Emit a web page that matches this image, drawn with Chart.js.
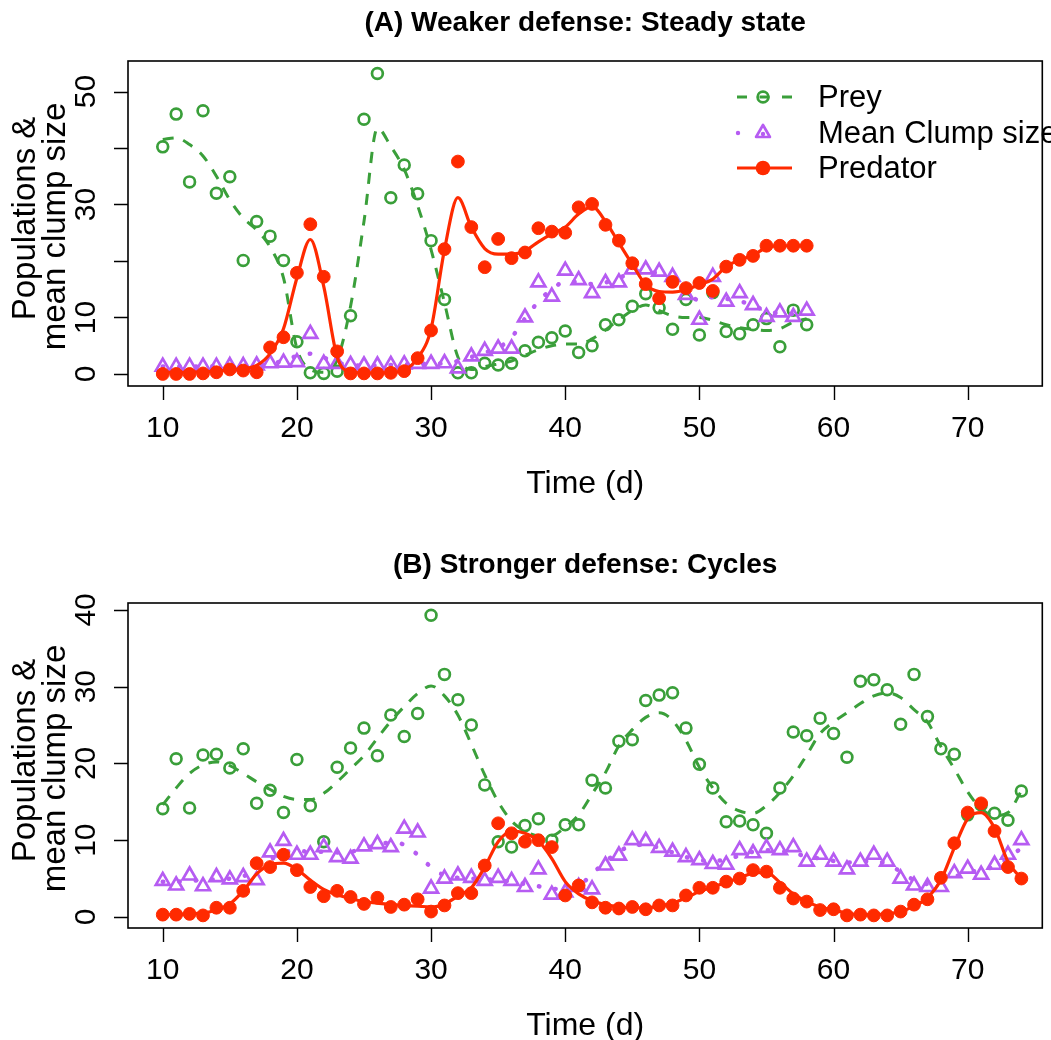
<!DOCTYPE html>
<html>
<head>
<meta charset="utf-8">
<script src="https://cdn.jsdelivr.net/npm/chart.js@4.4.1/dist/chart.umd.min.js"></script>
<style>
  html, body { margin: 0; padding: 0; background: #ffffff; overflow: hidden; }
  .panel { position: absolute; left: 0; width: 1051px; height: 520px; overflow: hidden; }
</style>
</head>
<body>
<div class="panel" style="top:0"><canvas id="panelA" width="1053" height="520"></canvas></div>
<div class="panel" style="top:520px"><canvas id="panelB" width="1053" height="520"></canvas></div>
<script>
(() => {
    'use strict';

    // ---- panel A: weaker defense ----
    const daysA = [10, 11, 12, 13, 14, 15, 16, 17, 18, 19, 20, 21, 22, 23, 24, 25, 26, 27, 28, 29,
        30, 31, 32, 33, 34, 35, 36, 37, 38, 39, 40, 41, 42, 43, 44, 45, 46, 47, 48, 49,
        50, 51, 52, 53, 54, 55, 56, 57, 58];
    const preyA = [40.2, 46.0, 34.0, 46.6, 32.0, 34.9, 20.1, 27.0, 24.4, 20.1, 5.7, 0.2, 0.1, 0.5, 10.3, 45.1, 53.2, 31.2, 37.0, 31.9,
        23.6, 13.2, 0.2, 0.2, 1.9, 1.6, 1.9, 4.1, 5.6, 6.4, 7.6, 3.8, 5.0, 8.7, 9.6, 12.0, 14.2, 11.7, 7.9, 13.2,
        6.9, 14.4, 7.5, 7.1, 8.7, 9.8, 4.8, 11.3, 8.7];
    const preyFitA = [41.5, 41.8, 40.6, 38.6, 35.0, 30.8, 27.6, 25.5, 22.5, 17.0, 4.5, 0.8, 0.3, 2.5, 12.0, 27.0, 43.5, 40.3, 36.2, 29.8,
        22.0, 12.6, 3.0, 0.8, 1.3, 1.8, 2.3, 3.3, 4.3, 5.0, 5.3, 5.3, 6.2, 7.8, 9.6, 11.2, 12.2, 11.2, 10.3, 10.0,
        10.0, 9.5, 8.7, 8.2, 7.9, 7.7, 8.0, 9.2, 9.8];
    const clumpA = [1.3, 1.3, 1.3, 1.3, 1.3, 1.4, 1.4, 1.5, 1.9, 2.0, 2.1, 7.1, 1.8, 1.8, 1.6, 1.5, 1.5, 1.6, 1.7, 1.8,
        1.8, 1.9, 1.0, 3.1, 4.1, 4.5, 4.5, 10.0, 16.2, 13.7, 18.3, 16.6, 14.3, 16.1, 16.2, 18.5, 18.5, 18.1, 17.2, 14.0,
        9.6, 17.2, 12.8, 14.3, 12.2, 10.1, 10.9, 10.1, 11.2];
    const clumpFitA = [1.3, 1.3, 1.3, 1.3, 1.4, 1.4, 1.5, 1.6, 1.9, 2.3, 3.2, 3.6, 2.9, 2.0, 1.6, 1.5, 1.5, 1.6, 1.7, 1.8,
        1.8, 1.9, 2.3, 3.0, 3.8, 4.6, 6.5, 9.8, 12.8, 15.0, 16.3, 16.3, 15.9, 16.2, 17.0, 17.9, 18.2, 17.7, 16.6, 14.7,
        13.0, 13.6, 13.3, 12.9, 12.1, 11.2, 10.7, 10.6, 10.9];
    const predatorA = [0.0, 0.0, 0.0, 0.1, 0.3, 0.8, 0.6, 0.3, 4.7, 6.5, 17.9, 26.5, 17.2, 4.0, 0.1, 0.1, 0.1, 0.2, 0.5, 2.8,
        7.7, 22.1, 37.6, 26.0, 18.9, 23.9, 20.5, 21.5, 25.8, 25.2, 25.0, 29.5, 30.1, 26.4, 23.6, 19.6, 15.9, 13.4, 16.3, 15.2,
        16.1, 14.7, 19.0, 20.2, 20.9, 22.7, 22.7, 22.7, 22.7];
    const predatorFitA = [0.3, 0.3, 0.3, 0.4, 0.5, 0.7, 0.9, 1.5, 3.6, 8.0, 17.0, 23.8, 15.5, 3.0, 0.4, 0.2, 0.2, 0.3, 0.7, 2.8,
        8.0, 22.0, 31.2, 26.0, 22.2, 21.2, 21.2, 21.8, 23.4, 24.8, 26.0, 28.3, 29.6, 27.0, 23.2, 19.4, 15.8, 14.6, 14.5, 14.9,
        15.8, 16.8, 19.0, 20.2, 21.0, 22.4, 22.7, 22.7, 22.7];

    // ---- panel B: stronger defense ----
    const daysB = [10, 11, 12, 13, 14, 15, 16, 17, 18, 19, 20, 21, 22, 23, 24, 25, 26, 27, 28, 29,
        30, 31, 32, 33, 34, 35, 36, 37, 38, 39, 40, 41, 42, 43, 44, 45, 46, 47, 48, 49,
        50, 51, 52, 53, 54, 55, 56, 57, 58, 59, 60, 61, 62, 63, 64, 65, 66, 67, 68, 69,
        70, 71, 72, 73, 74];
    const preyB = [14.1, 20.6, 14.2, 21.1, 21.2, 19.4, 21.9, 14.8, 16.5, 13.6, 20.5, 14.5, 9.8, 19.5, 22.0, 24.6, 21.0, 26.3, 23.5, 26.5,
        39.3, 31.6, 28.3, 25.0, 17.2, 9.8, 9.1, 11.9, 12.8, 10.0, 12.0, 12.0, 17.8, 16.8, 22.9, 23.1, 28.2, 28.9, 29.2, 24.6,
        19.9, 16.8, 12.4, 12.5, 12.0, 10.9, 16.8, 24.1, 23.6, 25.9, 23.9, 20.8, 30.7, 30.9, 29.6, 25.1, 31.6, 26.1, 21.9, 21.2,
        13.3, 14.6, 13.5, 12.6, 16.4];
    const preyFitB = [14.6, 16.8, 18.7, 19.8, 20.2, 19.7, 18.7, 17.6, 16.6, 15.7, 15.3, 15.3, 16.1, 17.6, 19.3, 21.0, 23.3, 25.5, 27.4, 29.1,
        30.1, 28.8, 26.3, 22.5, 18.5, 15.0, 12.5, 11.2, 10.6, 10.6, 11.7, 13.3, 16.0, 18.8, 22.3, 24.4, 26.0, 26.6, 25.6, 23.0,
        19.5, 16.8, 14.8, 13.8, 13.5, 14.5, 16.2, 18.4, 21.1, 23.9, 25.4, 26.6, 27.8, 28.8, 29.2, 28.6, 27.0, 25.4, 22.2, 19.3,
        16.3, 14.1, 13.2, 13.6, 16.4];
    const clumpB = [4.7, 4.1, 5.4, 4.0, 5.2, 4.9, 5.2, 4.8, 8.4, 9.9, 8.1, 8.1, 9.1, 7.8, 7.6, 9.2, 9.5, 9.1, 11.5, 11.0,
        3.7, 5.0, 5.4, 5.1, 4.7, 5.1, 4.7, 3.9, 6.2, 2.9, 3.2, 3.9, 3.6, 6.7, 8.0, 10.0, 9.9, 9.0, 8.5, 7.8,
        7.4, 6.9, 6.8, 8.7, 8.3, 9.0, 8.7, 9.1, 7.2, 8.1, 7.2, 6.2, 7.2, 8.1, 7.2, 5.0, 4.1, 3.9, 3.9, 5.7,
        6.3, 5.5, 6.8, 8.1, 10.0];
    const clumpFitB = [4.6, 4.6, 4.7, 4.8, 4.9, 5.0, 5.3, 6.2, 7.4, 8.4, 8.6, 8.5, 8.5, 8.4, 8.5, 8.9, 9.4, 9.7, 9.4, 8.1,
        6.5, 5.4, 5.1, 5.0, 4.9, 4.8, 4.6, 4.3, 4.0, 3.7, 3.6, 4.0, 5.6, 7.2, 8.5, 9.3, 9.4, 9.0, 8.4, 7.8,
        7.4, 7.3, 7.5, 8.0, 8.5, 8.7, 8.6, 8.3, 7.9, 7.6, 7.3, 7.1, 7.2, 7.3, 6.9, 5.9, 4.8, 4.3, 4.5, 5.2,
        5.8, 6.1, 6.6, 7.6, 9.0];
    const predatorB = [0.3, 0.3, 0.4, 0.2, 1.2, 1.2, 3.4, 7.0, 6.5, 8.1, 6.1, 3.9, 2.7, 3.4, 2.6, 1.7, 2.5, 1.3, 1.6, 2.3,
        0.7, 1.5, 3.1, 3.1, 6.7, 12.2, 10.9, 9.8, 10.0, 9.1, 2.8, 4.1, 1.9, 1.2, 1.1, 1.3, 1.0, 1.5, 1.5, 2.8,
        3.8, 3.8, 4.6, 5.0, 6.1, 5.9, 3.8, 2.4, 2.0, 0.9, 1.0, 0.2, 0.3, 0.2, 0.2, 0.7, 1.6, 2.3, 5.1, 9.6,
        13.6, 14.8, 11.2, 6.5, 5.0];
    const predatorFitB = [0.3, 0.3, 0.4, 0.5, 0.9, 1.7, 3.4, 5.6, 6.8, 7.0, 6.2, 4.8, 3.6, 2.9, 2.4, 2.0, 1.8, 1.6, 1.5, 1.4,
        1.3, 1.7, 2.7, 3.8, 6.5, 9.8, 11.2, 10.9, 9.9, 7.6, 4.6, 3.0, 2.1, 1.6, 1.3, 1.2, 1.2, 1.4, 1.8, 2.5,
        3.3, 3.9, 4.5, 5.1, 5.7, 5.8, 4.5, 3.0, 2.0, 1.3, 0.9, 0.5, 0.3, 0.3, 0.4, 0.7, 1.4, 2.5, 4.8, 9.0,
        12.8, 13.6, 11.6, 7.2, 5.0];

    // ---- axes ----
    const xTicks = [10, 20, 30, 40, 50, 60, 70];
    const yTicksA = [0, 10, 20, 30, 40, 50];
    const yLabelsA = [0, 10, 30, 50];
    const yTicksB = [0, 10, 20, 30, 40];
    const yLabelsB = [0, 10, 20, 30, 40];
    const legendLabels = ['Prey', 'Mean Clump size', 'Predator'];

    const GREEN = '#3a9f3a';
    const PURPLE = '#b65cf2';
    const RED = '#ff2a00';
    const FONT = '"Liberation Sans", Arial, Helvetica, sans-serif';

    const toPoints = (xs, ys) => xs.map((x, i) => ({ x, y: ys[i] }));

    const rFrame = {
        id: 'rFrame',
        afterDatasetsDraw(chart, args, opts) {
            const { ctx, chartArea: area } = chart;
            const xs = chart.scales.x;
            const ys = chart.scales.y;

            ctx.save();
            ctx.strokeStyle = '#000000';
            ctx.lineWidth = 1.6;
            ctx.strokeRect(area.left, area.top, area.right - area.left, area.bottom - area.top);

            ctx.lineWidth = 1.4;
            ctx.beginPath();
            opts.xTicks.forEach((v) => {
                const px = Math.round(xs.getPixelForValue(v)) + 0.5;
                ctx.moveTo(px, area.bottom);
                ctx.lineTo(px, area.bottom + 14);
            });
            opts.yTicks.forEach((v) => {
                const py = Math.round(ys.getPixelForValue(v)) + 0.5;
                ctx.moveTo(area.left, py);
                ctx.lineTo(area.left - 14, py);
            });
            ctx.stroke();

            ctx.fillStyle = '#000000';
            ctx.textAlign = 'center';
            ctx.textBaseline = 'alphabetic';
            ctx.font = '30px ' + FONT;
            opts.xTicks.forEach((v) => {
                ctx.fillText(String(v), xs.getPixelForValue(v), area.bottom + 51);
            });
            opts.yLabels.forEach((v) => {
                ctx.save();
                ctx.translate(area.left - 33, ys.getPixelForValue(v));
                ctx.rotate(-Math.PI / 2);
                ctx.fillText(String(v), 0, 0);
                ctx.restore();
            });

            const midX = (area.left + area.right) / 2;
            const midY = (area.top + area.bottom) / 2;

            ctx.font = '32px ' + FONT;
            ctx.fillText('Time (d)', midX, area.bottom + 107);

            ctx.font = '33px ' + FONT;
            [['Populations &', 35, midY - 5], ['mean clump size', 65, midY + 3]].forEach(([text, bx, cy]) => {
                ctx.save();
                ctx.translate(bx, cy);
                ctx.rotate(-Math.PI / 2);
                ctx.fillText(text, 0, 0);
                ctx.restore();
            });

            ctx.font = 'bold 28px ' + FONT;
            ctx.fillText(opts.title, midX, area.top - 30);

            if (opts.legend) {
                const rows = [97, 133, 168];
                const x0 = 737;
                const x1 = 792;
                const xc = 763;

                // prey: dashed line with open circle
                ctx.save();
                ctx.strokeStyle = GREEN;
                ctx.lineWidth = 3;
                ctx.setLineDash([10, 12.5]);
                ctx.beginPath();
                ctx.moveTo(x0, rows[0]);
                ctx.lineTo(x1, rows[0]);
                ctx.stroke();
                ctx.setLineDash([]);
                ctx.lineWidth = 2.7;
                ctx.beginPath();
                ctx.arc(xc, rows[0], 5.4, 0, Math.PI * 2);
                ctx.stroke();

                // clump: dotted line with open triangle
                ctx.fillStyle = PURPLE;
                ctx.strokeStyle = PURPLE;
                ctx.beginPath();
                ctx.arc(x0 + 1, rows[1], 2.2, 0, Math.PI * 2);
                ctx.arc(xc, rows[1] + 1, 2.2, 0, Math.PI * 2);
                ctx.fill();
                const r = 8;
                ctx.lineJoin = 'round';
                ctx.beginPath();
                ctx.moveTo(xc, rows[1] - r);
                ctx.lineTo(xc + r * Math.sin(Math.PI * 2 / 3), rows[1] + r / 2);
                ctx.lineTo(xc - r * Math.sin(Math.PI * 2 / 3), rows[1] + r / 2);
                ctx.closePath();
                ctx.stroke();

                // predator: solid line with filled circle
                ctx.strokeStyle = RED;
                ctx.fillStyle = RED;
                ctx.lineWidth = 3;
                ctx.beginPath();
                ctx.moveTo(x0, rows[2]);
                ctx.lineTo(x1, rows[2]);
                ctx.stroke();
                ctx.beginPath();
                ctx.arc(xc, rows[2], 7.3, 0, Math.PI * 2);
                ctx.fill();
                ctx.restore();

                ctx.fillStyle = '#000000';
                ctx.textAlign = 'left';
                ctx.textBaseline = 'middle';
                ctx.font = '31px ' + FONT;
                opts.legendLabels.forEach((label, i) => {
                    ctx.fillText(label, 818, rows[i] + 1);
                });
            }
            ctx.restore();
        },
    };

    const buildDatasets = (days, prey, preyFit, clump, clumpFit, predator, predatorFit) => [
        {
            data: toPoints(days, prey),
            showLine: false,
            pointStyle: 'circle',
            pointRadius: 5.4,
            pointBorderWidth: 2.7,
            pointBorderColor: GREEN,
            pointBackgroundColor: 'rgba(0,0,0,0)',
            order: 6,
        },
        {
            data: toPoints(days, preyFit),
            borderColor: GREEN,
            borderWidth: 3,
            borderDash: [11, 10],
            pointRadius: 0,
            cubicInterpolationMode: 'monotone',
            order: 5,
        },
        {
            data: toPoints(days, clump),
            showLine: false,
            pointStyle: 'triangle',
            pointRadius: 8,
            pointBorderWidth: 2.7,
            pointBorderColor: PURPLE,
            pointBackgroundColor: 'rgba(0,0,0,0)',
            order: 4,
        },
        {
            data: toPoints(days, clumpFit),
            borderColor: PURPLE,
            borderWidth: 4.5,
            borderDash: [0.5, 16],
            borderCapStyle: 'round',
            pointRadius: 0,
            cubicInterpolationMode: 'monotone',
            order: 3,
        },
        {
            data: toPoints(days, predatorFit),
            borderColor: RED,
            borderWidth: 3.2,
            pointRadius: 0,
            cubicInterpolationMode: 'monotone',
            order: 2,
        },
        {
            data: toPoints(days, predator),
            showLine: false,
            pointStyle: 'circle',
            pointRadius: 6.4,
            pointBorderWidth: 1,
            pointBorderColor: RED,
            pointBackgroundColor: RED,
            order: 1,
        },
    ];

    const makeChart = (canvasId, datasets, yMin, yMax, padTop, padBottom, frame) => new Chart(document.getElementById(canvasId), {
        type: 'line',
        data: { datasets },
        plugins: [rFrame],
        options: {
            responsive: false,
            animation: false,
            events: [],
            layout: {
                padding: { left: 128, right: 3, top: padTop, bottom: padBottom },
            },
            scales: {
                x: { type: 'linear', display: false, min: 7.41, max: 75.56 },
                y: { type: 'linear', display: false, min: yMin, max: yMax },
            },
            plugins: {
                legend: { display: false },
                tooltip: { enabled: false },
                rFrame: frame,
            },
        },
    });

    makeChart('panelA',
        buildDatasets(daysA, preyA, preyFitA, clumpA, clumpFitA, predatorA, predatorFitA),
        -2.13, 55.4, 61, 134,
        { title: '(A) Weaker defense: Steady state', xTicks, yTicks: yTicksA, yLabels: yLabelsA, legend: true, legendLabels });

    makeChart('panelB',
        buildDatasets(daysB, preyB, preyFitB, clumpB, clumpFitB, predatorB, predatorFitB),
        -1.44, 40.9, 83, 112,
        { title: '(B) Stronger defense: Cycles', xTicks, yTicks: yTicksB, yLabels: yLabelsB, legend: false, legendLabels });
})();
</script>
</body>
</html>
